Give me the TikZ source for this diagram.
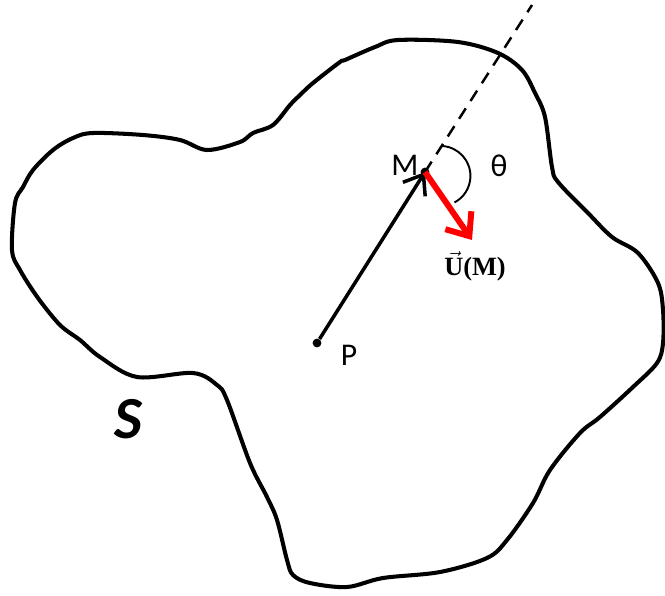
\documentclass[tikz,border=0pt]{standalone}
\usepackage{amsmath}
\usepackage{fontspec}
\usepackage{tikz}
\usetikzlibrary{arrows.meta,positioning}
\newfontfamily\labfont{Carlito}
\newfontfamily\vecfont{Liberation Serif}

\begin{document}
\begin{tikzpicture}[x=0.02cm,y=-0.02cm,
	outline/.style={line width=2.3pt, line join=round},
	ptdot/.style={circle, fill=black, inner sep=0pt, minimum size=5pt},
	lab/.style={font=\labfont\fontsize{18}{20}\selectfont}]
\useasboundingbox (0,0) rectangle (665,595);

% the surface S
\draw[outline] plot[smooth cycle, tension=0.55] coordinates {
 (340,62) (313,83) (300,95) (290,105) (273,125) (253,133) (240,142) (207,150)
 (180,140) (143,135) (93,133) (73,138) (53,150) (33,170) (23,187) (15,203)
 (12,250) (20,270) (38,298) (60,325) (80,340) (100,357) (137,377) (193,373)
 (217,385) (227,400) (250,463) (267,497) (277,520) (287,560) (293,575) (310,583)
 (347,587) (383,578) (440,572) (487,558) (507,540) (533,503) (550,470) (580,433)
 (600,417) (633,387) (657,363) (663,343) (663,310) (658,283) (638,253) (612,237)
 (588,213) (558,182) (552,167) (545,117) (535,93) (522,70) (498,53) (458,42)
 (398,40) (375,47) (345,60)};

		\node[ptdot] (P) at (317,343){};
		\node[ptdot] (M) at (425,172){};
		\coordinate (far) at (532,5);
		\coordinate (U) at (472,240);

\draw[line width=2pt, -{Straight Barb[length=10pt,width=15pt]}] (P) -- (M.center);
\draw[line width=1.4pt, dash pattern=on 7pt off 5pt] (M.center) -- (far);
\draw[red, line width=3.4pt, -{Straight Barb[length=11pt,width=18pt]}] (M.center) -- (U);
\draw[line width=1.1pt] (442,146) arc[start angle=-87, end angle=62, radius=30];

		\node[lab] at (405,165){M};
		\node[lab] at (349,355){P};
		\node[lab] at (499,166){θ};
		\node[font=\labfont\bfseries\itshape\fontsize{34}{36}\selectfont] at (128,419){S};
		\node[font=\vecfont\bfseries\fontsize{15}{17}\selectfont] at (475,266){$\vec{\text{U}}$(M)};

\end{tikzpicture}
\end{document}
